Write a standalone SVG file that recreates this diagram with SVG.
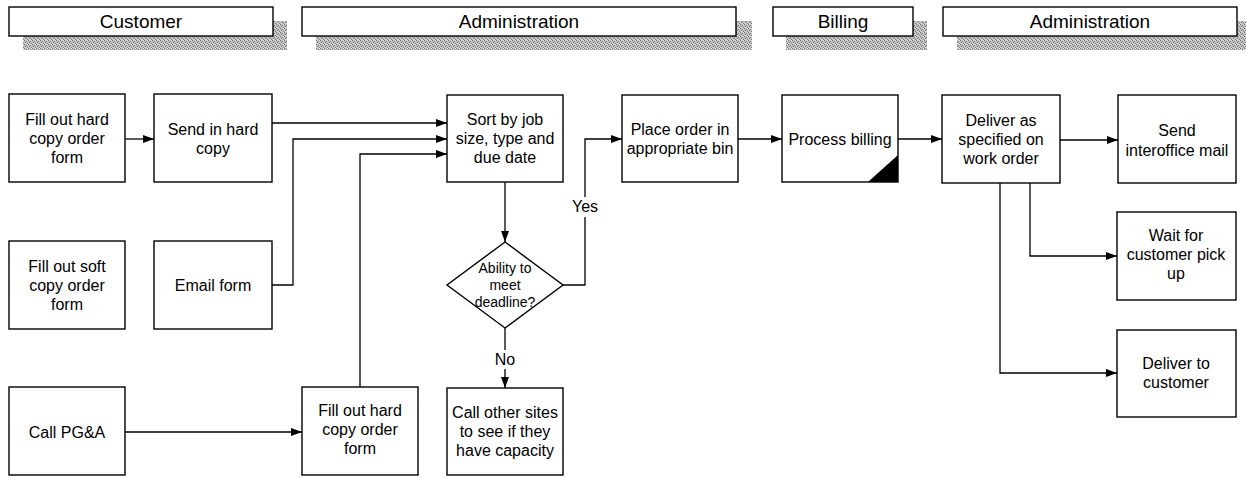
<svg xmlns="http://www.w3.org/2000/svg" width="1246" height="478" viewBox="0 0 1246 478">
<style>
  .hdr{fill:#fff;stroke:#000;stroke-width:1.4}
  .shd{fill:url(#dither);stroke:none}
  .htxt{font-family:"Liberation Sans",Arial,sans-serif;font-size:19px;fill:#000;text-anchor:middle}
  .box{fill:#fff;stroke:#000;stroke-width:1.4}
  .t{font-family:"Liberation Sans",Arial,sans-serif;font-size:16px;fill:#000;text-anchor:middle}
  .ts{font-family:"Liberation Sans",Arial,sans-serif;font-size:14px;fill:#000;text-anchor:middle}
  .c{fill:none;stroke:#000;stroke-width:1.3}
  .ca{fill:none;stroke:#000;stroke-width:1.3;marker-end:url(#arr)}
</style>
<defs>
  <marker id="arr" markerUnits="userSpaceOnUse" markerWidth="11" markerHeight="8" refX="11" refY="4" orient="auto">
    <path d="M0,0 L11,4 L0,8 z" fill="#000"/>
  </marker>
  <pattern id="dither" width="4" height="4" patternUnits="userSpaceOnUse">
    <rect width="4" height="4" fill="#c4c4c4"/>
    <rect x="0" y="0" width="1" height="1" fill="#6a6a6a"/>
    <rect x="2" y="1" width="1" height="1" fill="#7a7a7a"/>
    <rect x="1" y="2" width="1" height="1" fill="#6a6a6a"/>
    <rect x="3" y="3" width="1" height="1" fill="#7a7a7a"/>
    <rect x="3" y="0" width="1" height="1" fill="#e6e6e6"/>
    <rect x="1" y="3" width="1" height="1" fill="#e6e6e6"/>
  </pattern>
</defs>
<rect width="1246" height="478" fill="#fff"/>

<g id="lane-customer">
  <rect class="shd" x="23" y="21" width="264" height="29"/>
  <rect class="hdr" x="9" y="7" width="264" height="29"/>
  <text class="htxt" x="141" y="28">Customer</text>
</g>
<g id="lane-administration-1">
  <rect class="shd" x="316" y="21" width="436" height="29"/>
  <rect class="hdr" x="302" y="7" width="434" height="29"/>
  <text class="htxt" x="519" y="28">Administration</text>
</g>
<g id="lane-billing">
  <rect class="shd" x="786" y="21" width="141" height="29"/>
  <rect class="hdr" x="773" y="7" width="140" height="29"/>
  <text class="htxt" x="843" y="28">Billing</text>
</g>
<g id="lane-administration-2">
  <rect class="shd" x="957" y="21" width="294" height="29"/>
  <rect class="hdr" x="943" y="7" width="294" height="29"/>
  <text class="htxt" x="1090" y="28">Administration</text>
</g>

<g id="connectors">
  <path class="ca" d="M125,139 H154"/>
  <path class="ca" d="M272,123 H447"/>
  <path class="ca" d="M272,285 H293 V139 H447"/>
  <path class="ca" d="M360,387 V154 H447"/>
  <path class="ca" d="M505,182 V242"/>
  <path class="c" d="M563,285 H585 V217"/>
  <path class="ca" d="M585,197 V139 H622"/>
  <text class="t" x="585" y="212">Yes</text>
  <path class="c" d="M505,328 V350"/>
  <path class="ca" d="M505,369 V388"/>
  <text class="t" x="505" y="365">No</text>
  <path class="ca" d="M738,139 H782"/>
  <path class="ca" d="M898,139 H942"/>
  <path class="ca" d="M1060,140 H1118"/>
  <path class="ca" d="M1030,183 V256 H1117"/>
  <path class="ca" d="M1000,183 V373 H1117"/>
  <path class="ca" d="M125,432 H302"/>
</g>

<g id="n-fill-hard">
  <rect class="box" x="9" y="94" width="116" height="88"/>
  <text class="t" x="67" y="125">Fill out hard</text>
  <text class="t" x="67" y="144">copy order</text>
  <text class="t" x="67" y="163">form</text>
</g>
<g id="n-send-hard">
  <rect class="box" x="154" y="94" width="118" height="88"/>
  <text class="t" x="213" y="135">Send in hard</text>
  <text class="t" x="213" y="154">copy</text>
</g>
<g id="n-sort">
  <rect class="box" x="447" y="95" width="116" height="87"/>
  <text class="t" x="505" y="125">Sort by job</text>
  <text class="t" x="505" y="144">size, type and</text>
  <text class="t" x="505" y="163">due date</text>
</g>
<g id="n-place">
  <rect class="box" x="622" y="95" width="116" height="87"/>
  <text class="t" x="680" y="135">Place order in</text>
  <text class="t" x="680" y="154">appropriate bin</text>
</g>
<g id="n-billing">
  <rect class="box" x="782" y="95" width="116" height="87"/>
  <path d="M898,155 L898,182 L868,182 z" fill="#000"/>
  <text class="t" x="840" y="145">Process billing</text>
</g>
<g id="n-deliver-spec">
  <rect class="box" x="942" y="95" width="118" height="88"/>
  <text class="t" x="1001" y="126">Deliver as</text>
  <text class="t" x="1001" y="145">specified on</text>
  <text class="t" x="1001" y="164">work order</text>
</g>
<g id="n-interoffice">
  <rect class="box" x="1118" y="95" width="118" height="88"/>
  <text class="t" x="1177" y="136">Send</text>
  <text class="t" x="1177" y="156">interoffice mail</text>
</g>
<g id="n-fill-soft">
  <rect class="box" x="9" y="241" width="116" height="88"/>
  <text class="t" x="67" y="272">Fill out soft</text>
  <text class="t" x="67" y="291">copy order</text>
  <text class="t" x="67" y="310">form</text>
</g>
<g id="n-email">
  <rect class="box" x="154" y="241" width="118" height="88"/>
  <text class="t" x="213" y="291">Email form</text>
</g>
<g id="n-decision">
  <path class="box" d="M505,242 L563,285 L505,328 L447,285 z"/>
  <text class="ts" x="505" y="273">Ability to</text>
  <text class="ts" x="505" y="290">meet</text>
  <text class="ts" x="505" y="307">deadline?</text>
</g>
<g id="n-wait">
  <rect class="box" x="1117" y="212" width="119" height="88"/>
  <text class="t" x="1176" y="241">Wait for</text>
  <text class="t" x="1176" y="260">customer pick</text>
  <text class="t" x="1176" y="279">up</text>
</g>
<g id="n-call">
  <rect class="box" x="9" y="387" width="116" height="88"/>
  <text class="t" x="67" y="438">Call PG&amp;A</text>
</g>
<g id="n-fill-hard-2">
  <rect class="box" x="302" y="387" width="116" height="88"/>
  <text class="t" x="360" y="416">Fill out hard</text>
  <text class="t" x="360" y="435">copy order</text>
  <text class="t" x="360" y="454">form</text>
</g>
<g id="n-call-other">
  <rect class="box" x="447" y="388" width="116" height="87"/>
  <text class="t" x="505" y="418">Call other sites</text>
  <text class="t" x="505" y="437">to see if they</text>
  <text class="t" x="505" y="456">have capacity</text>
</g>
<g id="n-deliver-cust">
  <rect class="box" x="1117" y="330" width="119" height="87"/>
  <text class="t" x="1176" y="369">Deliver to</text>
  <text class="t" x="1176" y="388">customer</text>
</g>
</svg>
